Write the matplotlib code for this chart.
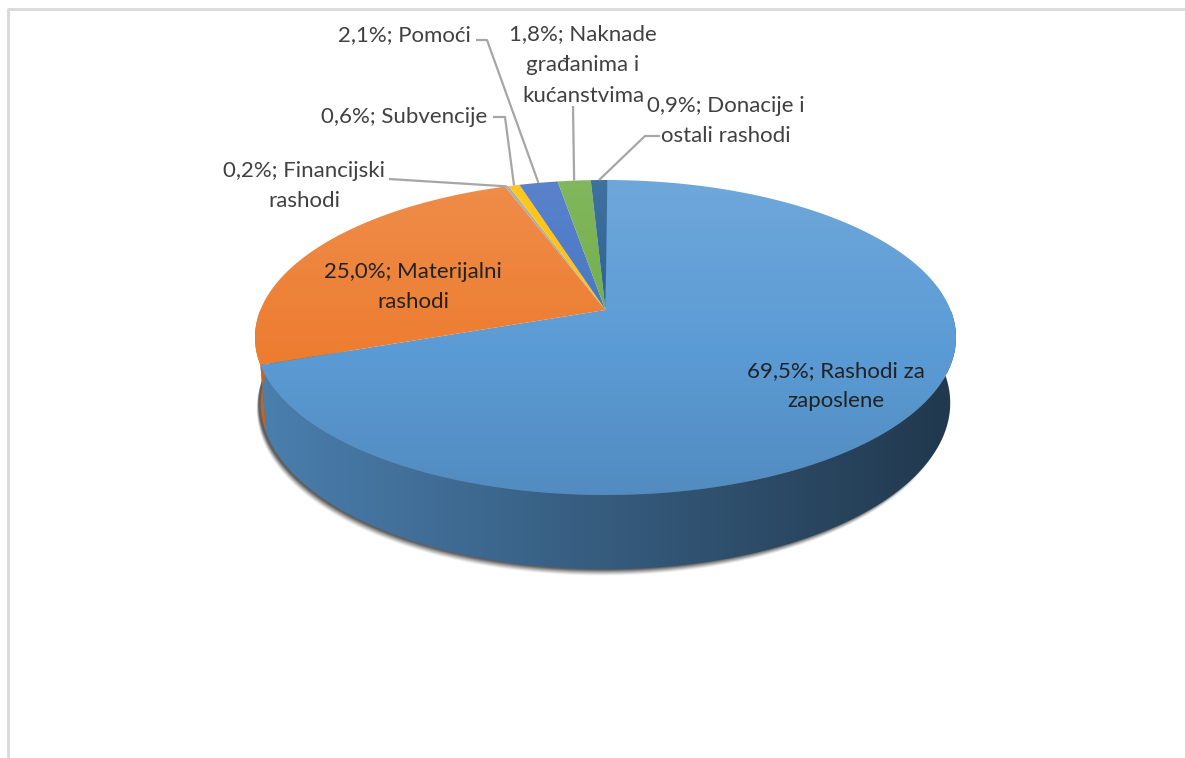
import numpy as np
import matplotlib
matplotlib.use("Agg")
import matplotlib.pyplot as plt
from matplotlib.patches import Polygon
from matplotlib.colors import to_rgb

# data (Excel order, clockwise from 12 o'clock)
labels = ["Rashodi za\nzaposlene", "Materijalni\nrashodi", "Financijski\nrashodi",
          "Subvencije", "Pomoći", "Naknade\ngrađanima i\nkućanstvima",
          "Donacije i\nostali rashodi"]
shares = [69.5, 25.0, 0.2, 0.6, 2.1, 1.8, 0.9]
colors = ["#5B9BD5", "#ED7D31", "#A5A5A5", "#FFC000", "#4472C4", "#70AD47", "#255E91"]

label_texts = [
    "69,5%; Rashodi za\nzaposlene",
    "25,0%; Materijalni\nrashodi",
    "0,2%; Financijski\nrashodi",
    "0,6%; Subvencije",
    "2,1%; Pomoći",
    "1,8%; Naknade\ngrađanima i\nkućanstvima",
    "0,9%; Donacije i\nostali rashodi",
]

W, H = 1185, 758
plt.rcParams['font.family'] = ['Lato', 'DejaVu Sans']
fig = plt.figure(figsize=(W / 100, H / 100), dpi=100)
ax = fig.add_axes([0, 0, 1, 1])
ax.set_xlim(0, W)
ax.set_ylim(H, 0)
ax.axis("off")

# chart border
ax.plot([7.5, 7.5, W + 5], [H + 5, 8.5, 8.5], color="#D9D9D9", lw=2, zorder=1)

# perspective projection of a flat cylinder
phi = np.radians(25)
L = 5.727 * np.cos(phi)
thick = 0.2


def raw(u, v, z):
    depth = L + v * np.cos(phi) - z * np.sin(phi)
    return u / depth, (v * np.sin(phi) + z * np.cos(phi)) / depth


t = np.linspace(0, 2 * np.pi, 721)
rx, ry = raw(np.cos(t), np.sin(t), 0 * t)
x0, x1, y0, y1 = 255, 956, 180, 495
sx = (x1 - x0) / (rx.max() - rx.min())
sy = (y1 - y0) / (ry.max() - ry.min())


def proj(u, v, z):
    X, Y = raw(u, v, z)
    return x0 + (X - rx.min()) * sx, y0 + (ry.max() - Y) * sy


def arc(a0, a1, z, n=200):
    a = np.linspace(a0, a1, n)
    return proj(np.cos(a), np.sin(a), np.full_like(a, z))


def shade(col, k):
    c = np.array(to_rgb(col))
    if k <= 1:
        return np.clip(c * k, 0, 1)
    return c + (1 - c) * (k - 1)


def grad_fill(verts, col, f0, f1, axis, z, lo, hi):
    poly = Polygon(verts, closed=True, facecolor="none", edgecolor="none")
    ax.add_patch(poly)
    img = np.array([shade(col, k) for k in np.linspace(f0, f1, 256)])
    if axis == "x":
        img = img[np.newaxis, :, :]
        extent = (lo, hi, y1 + 120, y0 - 10)
    else:
        img = img[:, np.newaxis, :]
        extent = (x0 - 10, x1 + 10, hi, lo)
    im = ax.imshow(img, extent=extent, aspect="auto", zorder=z,
                   interpolation="bilinear")
    im.set_clip_path(poly)


# slice angles (standard orientation, clockwise from top)
bounds = []
start = np.pi / 2
for s in shares:
    end = start - 2 * np.pi * s / 100.0
    bounds.append((start, end))
    start = end

# soft shadow under the pie
bx, by = arc(np.pi * 0.95, np.pi * 2.05, -thick, 300)
for k, a in zip(range(7, 0, -1), np.linspace(0.05, 0.2, 7)):
    ax.add_patch(Polygon(np.column_stack([bx - 2 - 0.3 * k, by + 0.9 * k]),
                         closed=True, facecolor="#000000", edgecolor="none",
                         alpha=a, zorder=2))

# side walls (front half only)
for (a0, a1), col in zip(bounds, colors):
    lo_a, hi_a = min(a0, a1), max(a0, a1)
    for off in (0, 2 * np.pi, -2 * np.pi):
        s0 = max(lo_a + off, np.pi)
        s1 = min(hi_a + off, 2 * np.pi)
        if s1 > s0:
            ux, uy = arc(s0, s1, 0)
            dx, dy = arc(s0, s1, -thick)
            verts = np.column_stack([np.r_[ux, dx[::-1]], np.r_[uy, dy[::-1]]])
            grad_fill(verts, col, 0.82, 0.36, "x", 3, x0, x1)

# top faces
cx, cy = proj(0.0, 0.0, 0.0)
for (a0, a1), col in zip(bounds, colors):
    ax_, ay_ = arc(a0, a1, 0)
    verts = np.column_stack([np.r_[cx, ax_], np.r_[cy, ay_]])
    grad_fill(verts, col, 1.12, 0.9, "y", 4, y0, y1)

# labels
text_kw = dict(fontsize=16, color="#404040", ha="center", va="center",
               linespacing=1.6, zorder=6)
inside_pos = [(836, 386), (413, 287)]
for i in range(2):
    ax.text(*inside_pos[i], label_texts[i], **{**text_kw, "color": "#222222"})

outside_pos = [(304, 186), (404, 117), (404, 35), (583, 65), (726, 121)]
leaders = [
    [(389, 179)],
    [(493, 117), (505, 117)],
    [(476, 40), (487, 40)],
    [(573, 106)],
    [(660, 136), (645, 136)],
]
for i, (pos, pts) in enumerate(zip(outside_pos, leaders), start=2):
    ls = 1.7 if i == 5 else 1.6
    ax.text(*pos, label_texts[i], **{**text_kw, "linespacing": ls})
    a0, a1 = bounds[i]
    mid = (a0 + a1) / 2
    px, py = proj(np.cos(mid), np.sin(mid), 0.0)
    xs = [p[0] for p in pts] + [px]
    ys = [p[1] for p in pts] + [py]
    ax.plot(xs, ys, color="#A6A6A6", lw=1.6, zorder=5, solid_capstyle="butt")

fig.savefig("out.png", dpi=100, facecolor="white")
